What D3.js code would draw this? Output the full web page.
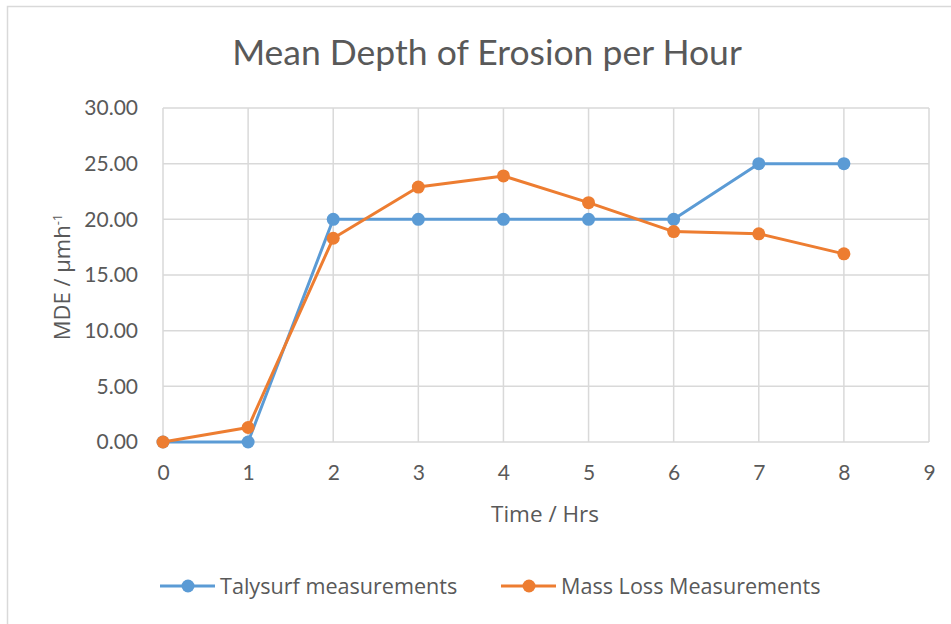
<!DOCTYPE html>
<html>
<head>
<meta charset="utf-8">
<script src="https://cdn.jsdelivr.net/npm/d3@7.9.0/dist/d3.min.js"></script>
<style>
  body { margin: 0; background: #fff; }
  svg { display: block; font-family: Lato, "Open Sans", sans-serif; }
</style>
</head>
<body>
<svg id="chart" width="951" height="624"></svg>
<script>
// data
const hours = [0, 1, 2, 3, 4, 5, 6, 7, 8];
const talysurf = [0, 0, 20, 20, 20, 20, 20, 25, 25];
const massLoss = [0, 1.3, 18.3, 22.9, 23.9, 21.5, 18.9, 18.7, 16.9];
const xTicks = [0, 1, 2, 3, 4, 5, 6, 7, 8, 9];
const yTicks = [0, 5, 10, 15, 20, 25, 30];

const series = [
  { name: 'Talysurf measurements', values: talysurf, color: '#5b9bd5' },
  { name: 'Mass Loss Measurements', values: massLoss, color: '#ed7d31' }
];

const svg = d3.select('#chart');
const textColor = '#595959';
const gridColor = '#d9d9d9';
const labelFont = '"Open Sans", sans-serif';

// outer chart frame
svg.append('rect')
   .attr('x', 7.5).attr('y', 6.5)
   .attr('width', 960).attr('height', 640)
   .attr('fill', '#fff')
   .attr('stroke', '#d9d9d9')
   .attr('stroke-width', 1.5);

const plot = { left: 163, top: 108, right: 929, bottom: 442 };

const x = d3.scaleLinear().domain([0, 9]).range([plot.left, plot.right]);
const y = d3.scaleLinear().domain([0, 30]).range([plot.bottom, plot.top]);

// gridlines
svg.append('g')
   .selectAll('line')
   .data(yTicks)
   .join('line')
   .attr('x1', plot.left).attr('x2', plot.right)
   .attr('y1', d => y(d)).attr('y2', d => y(d))
   .attr('stroke', gridColor).attr('stroke-width', 1.5);

svg.append('g')
   .selectAll('line')
   .data(xTicks)
   .join('line')
   .attr('x1', d => x(d)).attr('x2', d => x(d))
   .attr('y1', plot.top).attr('y2', plot.bottom)
   .attr('stroke', gridColor).attr('stroke-width', 1.5);

// axes (labels only, lines drawn by grid)
const xAxis = svg.append('g')
   .attr('transform', `translate(0,${plot.bottom})`)
   .call(d3.axisBottom(x).tickValues(xTicks).tickFormat(d3.format('d')).tickSize(0).tickPadding(19));

const yAxis = svg.append('g')
   .attr('transform', `translate(${plot.left},0)`)
   .call(d3.axisLeft(y).tickValues(yTicks).tickFormat(d3.format('.2f')).tickSize(0).tickPadding(25));

[xAxis, yAxis].forEach(a => {
  a.select('.domain').remove();
  a.selectAll('text')
   .attr('fill', textColor)
   .style('font-size', '21px')
   .style('font-family', 'Lato, sans-serif');
});
xAxis.selectAll('text').attr('dy', '0.9em');

// lines and markers
const line = d3.line()
   .x((d, i) => x(hours[i]))
   .y(d => y(d));

series.forEach(s => {
  svg.append('path')
     .datum(s.values)
     .attr('fill', 'none')
     .attr('stroke', s.color)
     .attr('stroke-width', 3)
     .attr('stroke-linejoin', 'round')
     .attr('d', line);

  svg.append('g')
     .selectAll('circle')
     .data(s.values)
     .join('circle')
     .attr('cx', (d, i) => x(hours[i]))
     .attr('cy', d => y(d))
     .attr('r', 6.5)
     .attr('fill', s.color);
});

// title
svg.append('text')
   .attr('x', 487).attr('y', 65)
   .attr('text-anchor', 'middle')
   .attr('fill', textColor)
   .style('font-size', '35.5px')
   .text('Mean Depth of Erosion per Hour');

// axis titles
svg.append('text')
   .attr('x', 545).attr('y', 522)
   .attr('text-anchor', 'middle')
   .attr('fill', textColor)
   .style('font-family', labelFont)
   .style('font-size', '22.5px')
   .text('Time / Hrs');

const yTitle = svg.append('text')
   .attr('transform', 'translate(70,277) rotate(-90)')
   .attr('text-anchor', 'middle')
   .attr('fill', textColor)
   .style('font-family', labelFont)
   .style('font-size', '22px');
yTitle.append('tspan').text('MDE / µmh');
yTitle.append('tspan').attr('dy', -8).style('font-size', '13px').text('-1');

// legend
const legendPos = [160, 501];
const legend = svg.append('g')
   .selectAll('g')
   .data(series)
   .join('g')
   .attr('transform', (d, i) => `translate(${legendPos[i]},586)`);

legend.append('line')
   .attr('x1', 0).attr('x2', 55)
   .attr('stroke', d => d.color).attr('stroke-width', 3);
legend.append('circle')
   .attr('cx', 28).attr('r', 6.5)
   .attr('fill', d => d.color);
legend.append('text')
   .attr('x', 60).attr('dy', '0.35em')
   .attr('fill', textColor)
   .style('font-family', labelFont)
   .style('font-size', '21.6px')
   .text(d => d.name);
</script>
</body>
</html>
